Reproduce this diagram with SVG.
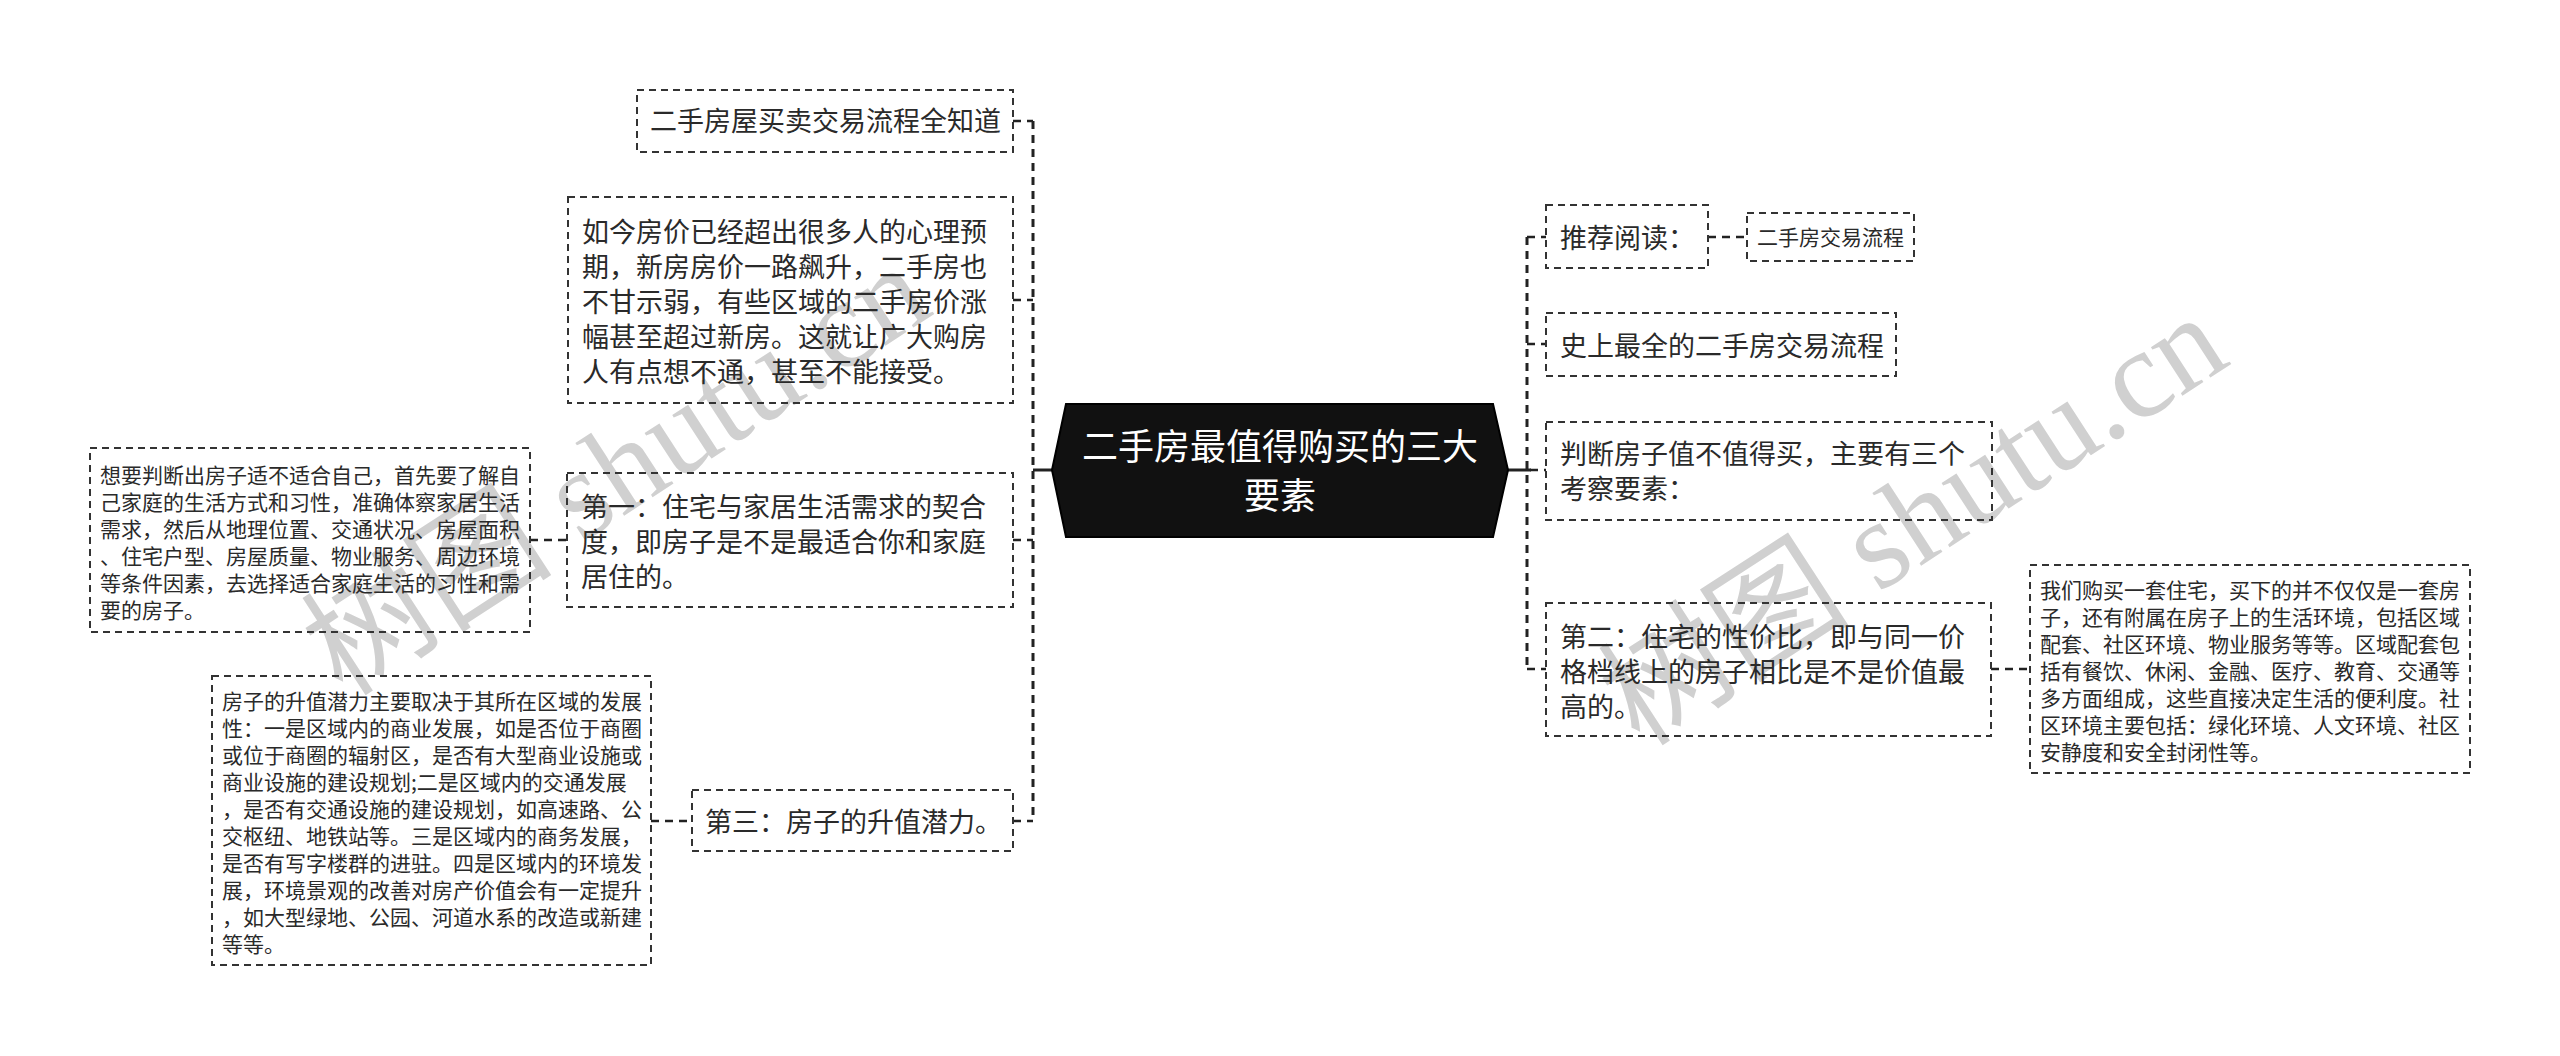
<svg xmlns="http://www.w3.org/2000/svg" width="2560" height="1056" viewBox="0 0 2560 1056">
<style>
.box{fill:none;stroke:#333;stroke-width:2;stroke-dasharray:7 5}
.t{font-family:"Noto Sans CJK SC","Noto Sans",sans-serif;font-size:27px;fill:#2a2a2a}
.s{font-family:"Noto Sans CJK SC","Noto Sans",sans-serif;font-size:21px;fill:#2a2a2a}
.c{font-family:"Noto Sans CJK SC","Noto Sans",sans-serif;font-size:36px;fill:#fff;text-anchor:middle}
.wm{font-family:"Liberation Serif","Noto Sans CJK SC",serif;font-size:126px;fill:#d0d0d0}
.ln{fill:none;stroke:#222;stroke-width:3;stroke-dasharray:8 6}
.lnd{fill:none;stroke:#222;stroke-width:2.5;stroke-dasharray:8 6}
.sol{fill:none;stroke:#222;stroke-width:3}
</style>
<rect width="2560" height="1056" fill="#fff"/>
<g id="watermarks">
<text class="wm" transform="translate(343,698) rotate(-33)"><tspan font-family="Noto Sans CJK SC,sans-serif">树图</tspan> shutu.cn</text>
<text class="wm" transform="translate(1640,748) rotate(-33)"><tspan font-family="Noto Sans CJK SC,sans-serif">树图</tspan> shutu.cn</text>
</g>
<g id="connectors">
<path class="ln" d="M1033 121V821"/>
<path class="lnd" d="M1013 121H1033M1013 300H1033M1013 540H1033M1013 821H1033"/>
<path class="sol" d="M1033 470H1052"/>
<path class="lnd" d="M530 540H567M651 821H692"/>
<path class="ln" d="M1527 237V669"/>
<path class="lnd" d="M1527 237H1546M1527 344H1546M1530 470H1546M1527 669H1546"/>
<path class="sol" d="M1508 470H1531"/>
<path class="lnd" d="M1708 237H1747M1991 669H2030"/>
</g>
<g id="center">
<polygon points="1052,470 1066,404 1493,404 1508,470 1493,537 1066,537" fill="#111" stroke="#000" stroke-width="2"/>
<text class="c" x="1280" y="460">二手房最值得购买的三大</text>
<text class="c" x="1280" y="509">要素</text>
</g>
<g id="n-top">
<rect class="box" x="637" y="90" width="376" height="62"/>
<text class="t" x="650" y="131">二手房屋买卖交易流程全知道</text>
</g>
<g id="n-para">
<rect class="box" x="568" y="197" width="445" height="206"/>
<text class="t" x="582"><tspan x="582" y="242">如今房价已经超出很多人的心理预</tspan><tspan x="582" y="277">期，新房房价一路飙升，二手房也</tspan><tspan x="582" y="312">不甘示弱，有些区域的二手房价涨</tspan><tspan x="582" y="347">幅甚至超过新房。这就让广大购房</tspan><tspan x="582" y="382">人有点想不通，甚至不能接受。</tspan></text>
</g>
<g id="n-first">
<rect class="box" x="567" y="473" width="446" height="134"/>
<text class="t"><tspan x="581" y="517">第一：住宅与家居生活需求的契合</tspan><tspan x="581" y="552">度，即房子是不是最适合你和家庭</tspan><tspan x="581" y="587">居住的。</tspan></text>
</g>
<g id="n-first-detail">
<rect class="box" x="90" y="448" width="440" height="184"/>
<text class="s"><tspan x="100" y="483">想要判断出房子适不适合自己，首先要了解自</tspan><tspan x="100" y="510">己家庭的生活方式和习性，准确体察家居生活</tspan><tspan x="100" y="537">需求，然后从地理位置、交通状况、房屋面积</tspan><tspan x="100" y="564">、住宅户型、房屋质量、物业服务、周边环境</tspan><tspan x="100" y="591">等条件因素，去选择适合家庭生活的习性和需</tspan><tspan x="100" y="618">要的房子。</tspan></text>
</g>
<g id="n-third">
<rect class="box" x="692" y="790" width="321" height="61"/>
<text class="t" x="705" y="832">第三：房子的升值潜力。</text>
</g>
<g id="n-third-detail">
<rect class="box" x="212" y="676" width="439" height="289"/>
<text class="s"><tspan x="222" y="709">房子的升值潜力主要取决于其所在区域的发展</tspan><tspan x="222" y="736">性：一是区域内的商业发展，如是否位于商圈</tspan><tspan x="222" y="763">或位于商圈的辐射区，是否有大型商业设施或</tspan><tspan x="222" y="790">商业设施的建设规划;二是区域内的交通发展</tspan><tspan x="222" y="817">，是否有交通设施的建设规划，如高速路、公</tspan><tspan x="222" y="844">交枢纽、地铁站等。三是区域内的商务发展，</tspan><tspan x="222" y="871">是否有写字楼群的进驻。四是区域内的环境发</tspan><tspan x="222" y="898">展，环境景观的改善对房产价值会有一定提升</tspan><tspan x="222" y="925">，如大型绿地、公园、河道水系的改造或新建</tspan><tspan x="222" y="952">等等。</tspan></text>
</g>
<g id="n-recommend">
<rect class="box" x="1546" y="205" width="162" height="63"/>
<text class="t" x="1560" y="248">推荐阅读：</text>
</g>
<g id="n-recommend-link">
<rect class="box" x="1747" y="213" width="167" height="48"/>
<text class="s" x="1757" y="245">二手房交易流程</text>
</g>
<g id="n-history">
<rect class="box" x="1546" y="313" width="350" height="63"/>
<text class="t" x="1560" y="356">史上最全的二手房交易流程</text>
</g>
<g id="n-judge">
<rect class="box" x="1546" y="422" width="446" height="98"/>
<text class="t"><tspan x="1560" y="464">判断房子值不值得买，主要有三个</tspan><tspan x="1560" y="499">考察要素：</tspan></text>
</g>
<g id="n-second">
<rect class="box" x="1546" y="603" width="445" height="133"/>
<text class="t"><tspan x="1560" y="647">第二：住宅的性价比，即与同一价</tspan><tspan x="1560" y="682">格档线上的房子相比是不是价值最</tspan><tspan x="1560" y="717">高的。</tspan></text>
</g>
<g id="n-second-detail">
<rect class="box" x="2030" y="565" width="440" height="208"/>
<text class="s"><tspan x="2040" y="598">我们购买一套住宅，买下的并不仅仅是一套房</tspan><tspan x="2040" y="625">子，还有附属在房子上的生活环境，包括区域</tspan><tspan x="2040" y="652">配套、社区环境、物业服务等等。区域配套包</tspan><tspan x="2040" y="679">括有餐饮、休闲、金融、医疗、教育、交通等</tspan><tspan x="2040" y="706">多方面组成，这些直接决定生活的便利度。社</tspan><tspan x="2040" y="733">区环境主要包括：绿化环境、人文环境、社区</tspan><tspan x="2040" y="760">安静度和安全封闭性等。</tspan></text>
</g>
</svg>
